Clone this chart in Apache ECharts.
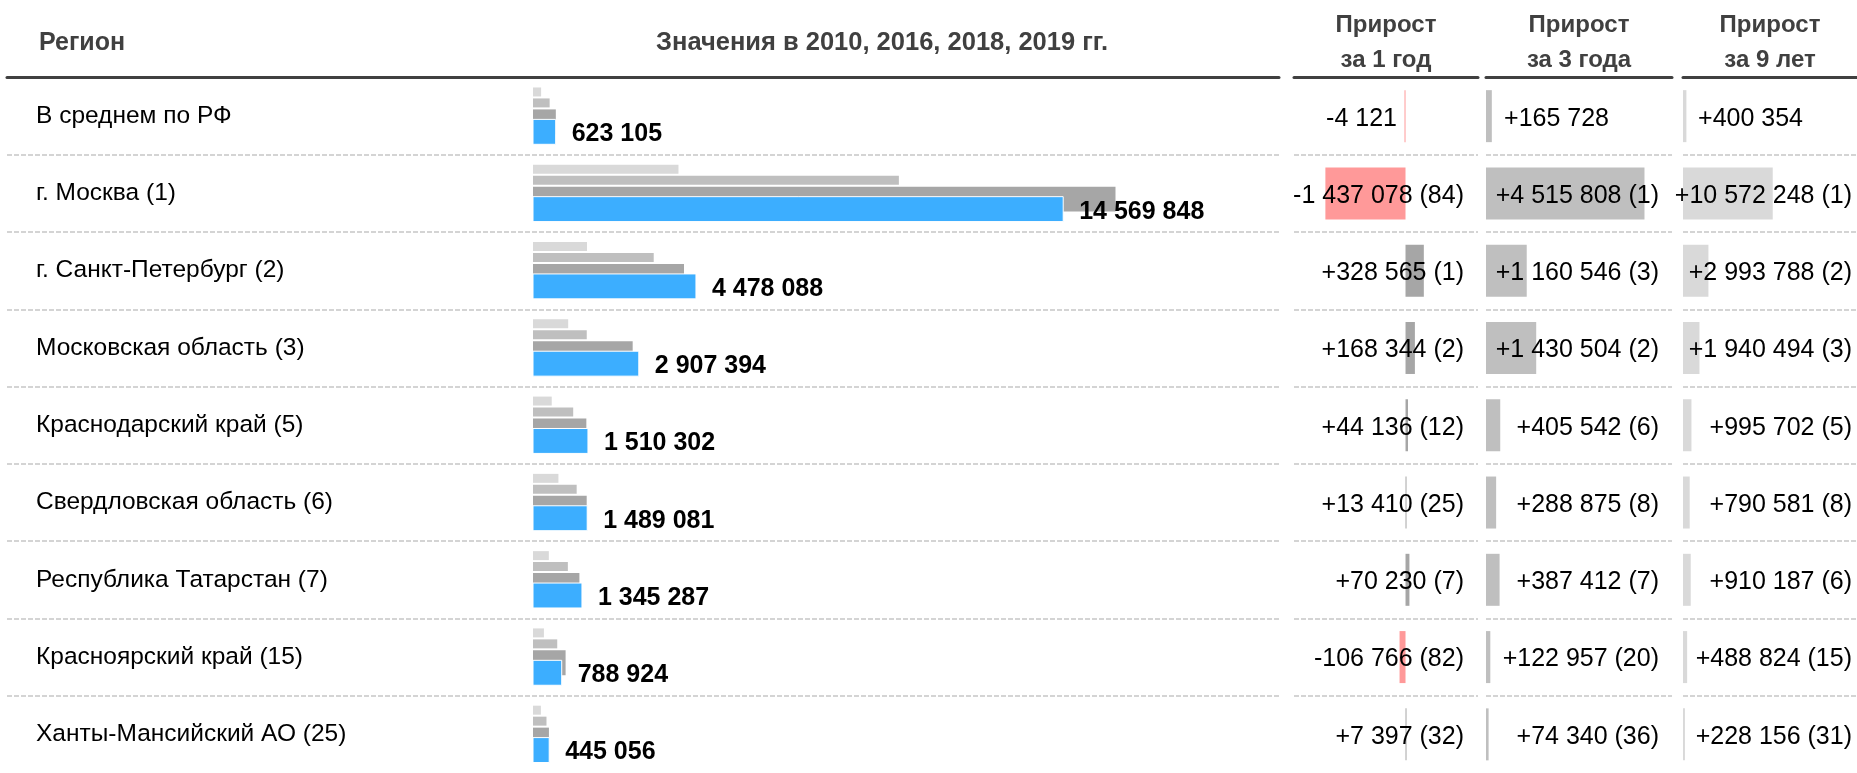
<!DOCTYPE html>
<html><head><meta charset="utf-8">
<script src="https://cdn.jsdelivr.net/npm/echarts@6/dist/echarts.min.js"></script>
<style>html,body{margin:0;padding:0;background:#fff}#c{width:1857px;height:773px}</style>
</head><body><div id="c"></div>
<script>
const regions = ['В среднем по РФ','г. Москва (1)','г. Санкт-Петербург (2)','Московская область (3)','Краснодарский край (5)','Свердловская область (6)','Республика Татарстан (7)','Красноярский край (15)','Ханты-Мансийский АО (25)'];
const years = ['2010', '2016', '2018', '2019'];
const values2010 = [222751, 3997600, 1484300, 966900, 514600, 698500, 435100, 300100, 216900];
const values2016 = [457377, 10054040, 3317542, 1476890, 1104760, 1200206, 957875, 665967, 370716];
const values2018 = [627226, 16006926, 4149523, 2739050, 1466166, 1475671, 1275057, 895690, 437659];
const values2019 = [623105, 14569848, 4478088, 2907394, 1510302, 1489081, 1345287, 788924, 445056];
const growth1 = [-4121, -1437078, 328565, 168344, 44136, 13410, 70230, -106766, 7397];
const rank1 = [null, 84, 1, 2, 12, 25, 7, 82, 32];
const growth3 = [165728, 4515808, 1160546, 1430504, 405542, 288875, 387412, 122957, 74340];
const rank3 = [null, 1, 3, 2, 6, 8, 7, 20, 36];
const growth9 = [400354, 10572248, 2993788, 1940494, 995702, 790581, 910187, 488824, 228156];
const rank9 = [null, 1, 2, 3, 5, 8, 6, 15, 31];
const headers = ['Регион', 'Значения в 2010, 2016, 2018, 2019 гг.', 'Прирост\nза 1 год', 'Прирост\nза 3 года', 'Прирост\nза 9 лет'];

const SP = ' ';
const FONT = '"Liberation Sans", Arial, sans-serif';
function grp(n){ return String(Math.abs(n)).replace(/\B(?=(\d{3})+(?!\d))/g, SP); }
function fmt(n){ return (n < 0 ? '-' : '') + grp(n); }
function fmtSigned(n){ return (n < 0 ? '-' : '+') + grp(n); }

const TOP = 77.5, ROWH = 77.5, H = ROWH * regions.length;
const chart = echarts.init(document.getElementById('c'), null, {renderer: 'canvas'});

const dashed = {show: true, showMinLine: false, showMaxLine: false, lineStyle: {color: '#d4d4d4', width: 2, type: [5, 2]}};
const headLine = {show: true, lineStyle: {color: '#404040', width: 3}};

function growthY(gi, vals, ranks, margin, pad){
  return {
    gridIndex: gi, type: 'category', data: regions, inverse: true, position: 'right', z: 10,
    axisLine: {show: false}, axisTick: {show: false}, splitLine: dashed,
    axisLabel: {
      inside: true, margin: margin, align: 'right',
      formatter: function(v, i){
        const t = fmtSigned(vals[i]);
        return ranks[i] == null ? '{v|' + t + '}{p| }' : '{v|' + t + ' (' + ranks[i] + ')}';
      },
      rich: {v: {fontSize: 25, color: '#000', fontFamily: FONT, padding: [5, 0, 0, 0]}, p: {width: pad, fontSize: 25}}
    }
  };
}
function growthX(gi, min, max){
  return {gridIndex: gi, type: 'value', min: min, max: max, position: 'top',
    axisLine: headLine, axisTick: {show: false}, axisLabel: {show: false}, splitLine: {show: false}};
}

const option = {
  animation: false,
  backgroundColor: '#fff',
  grid: [
    {left: 7, top: TOP, width: 1272, height: H},
    {left: 533, top: TOP, width: 746, height: H},
    {left: 1294, top: TOP, width: 184, height: H},
    {left: 1486, top: TOP, width: 186, height: H},
    {left: 1683, top: TOP, width: 174, height: H}
  ],
  xAxis: [
    growthX(0, 0, 1),
    {gridIndex: 1, type: 'value', min: 0, max: 20500000, show: false},
    growthX(2, -2000000, 1300000),
    growthX(3, 0, 5300000),
    growthX(4, 0, 20500000)
  ],
  yAxis: [
    {gridIndex: 0, type: 'category', data: regions, inverse: true,
      axisLine: {show: false}, axisTick: {show: false}, splitLine: dashed,
      axisLabel: {inside: true, margin: 29, align: 'left', fontSize: 24.5, color: '#000', fontFamily: FONT, padding: [4, 0, 0, 0]}},
    {gridIndex: 1, type: 'category', data: regions, inverse: true, show: false},
    growthY(2, growth1, rank1, 14, 67),
    growthY(3, growth3, rank3, 13, 50),
    growthY(4, growth9, rank9, 5, 49)
  ],
  graphic: [
    {type: 'text', x: 39, y: 43, style: {text: headers[0], font: 'bold 25px ' + FONT, fill: '#404040', align: 'left', verticalAlign: 'middle'}},
    {type: 'text', x: 882, y: 42.5, style: {text: headers[1], font: 'bold 25.5px ' + FONT, fill: '#404040', align: 'center', verticalAlign: 'middle'}},
    {type: 'text', x: 1386, y: 43, style: {text: headers[2], font: 'bold 24px ' + FONT, fill: '#404040', align: 'center', verticalAlign: 'middle', lineHeight: 35.5}},
    {type: 'text', x: 1579, y: 43, style: {text: headers[3], font: 'bold 24px ' + FONT, fill: '#404040', align: 'center', verticalAlign: 'middle', lineHeight: 35.5}},
    {type: 'text', x: 1770, y: 43, style: {text: headers[4], font: 'bold 24px ' + FONT, fill: '#404040', align: 'center', verticalAlign: 'middle', lineHeight: 35.5}}
  ],
  series: [
    {
      type: 'custom', name: years.join(', '), xAxisIndex: 1, yAxisIndex: 1,
      data: regions.map((r, i) => [i, values2010[i], values2016[i], values2018[i], values2019[i]]),
      encode: {y: 0, x: [1, 2, 3, 4]},
      renderItem: function(params, api){
        const idx = api.value(0);
        const base = api.coord([0, idx]);
        const band = api.size([0, 1])[1];
        const k = band / 77.5;
        const top = base[1] - band / 2;
        const x0 = base[0];
        const xe = v => api.coord([v, idx])[0];
        const rect = (v, y, h, color, stroke) => ({
          type: 'rect',
          shape: {x: x0, y: top + y * k, width: xe(v) - x0, height: h * k},
          style: {fill: color, stroke: stroke || null, lineWidth: stroke ? 1 : 0}
        });
        const v19 = api.value(4);
        return {type: 'group', children: [
          rect(api.value(1), 10, 9, '#d9d9d9'),
          rect(api.value(2), 21, 9, '#bfbfbf'),
          rect(api.value(3), 32, 25, '#a6a6a6'),
          rect(v19, 42, 25, '#3caeff', '#ffffff'),
          {type: 'text', x: xe(v19) + 16, y: top + 57 * k, z2: 10,
            style: {text: fmt(v19), font: 'bold 25px ' + FONT, fill: '#000', align: 'left', verticalAlign: 'middle'}}
        ]};
      }
    },
    {type: 'bar', name: 'Прирост за 1 год', xAxisIndex: 2, yAxisIndex: 2, data: growth1, barWidth: 52, barMinHeight: 1,
      itemStyle: {color: p => p.value < 0 ? '#ff9999' : '#a6a6a6'}},
    {type: 'bar', name: 'Прирост за 3 года', xAxisIndex: 3, yAxisIndex: 3, data: growth3, barWidth: 52, barMinHeight: 1,
      itemStyle: {color: '#bfbfbf'}},
    {type: 'bar', name: 'Прирост за 9 лет', xAxisIndex: 4, yAxisIndex: 4, data: growth9, barWidth: 52, barMinHeight: 1,
      itemStyle: {color: '#d9d9d9'}}
  ]
};
chart.setOption(option);
</script>
</body></html>
